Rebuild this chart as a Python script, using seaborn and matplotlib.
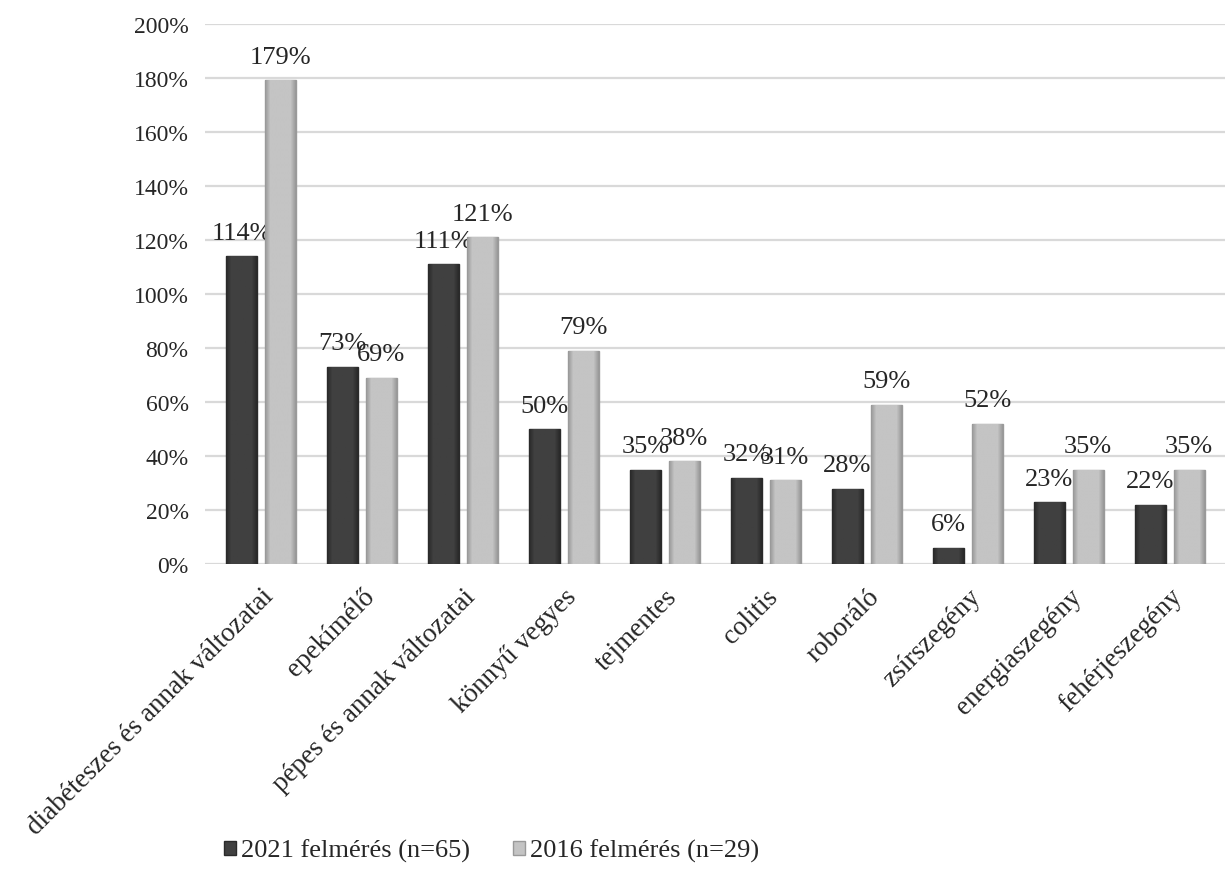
import numpy as np
import pandas as pd
import matplotlib
matplotlib.use("Agg")
import matplotlib.pyplot as plt
import seaborn as sns
from matplotlib.ticker import FuncFormatter
from matplotlib.patches import Patch

categories = ["diabéteszes és annak változatai", "epekímélő", "pépes és annak változatai",
              "könnyű vegyes", "tejmentes", "colitis", "roboráló", "zsírszegény",
              "energiaszegény", "fehérjeszegény"]
vals_2021 = [114, 73, 111, 50, 35, 32, 28, 6, 23, 22]
vals_2016 = [179, 69, 121, 79, 38, 31, 59, 52, 35, 35]
series = ["2021 felmérés (n=65)", "2016 felmérés (n=29)"]
colors = ["#404040", "#c4c4c4"]
edges = ["#2a2a2a", "#9a9a9a"]

df = pd.DataFrame({
    "kat": categories * 2,
    "ertek": vals_2021 + vals_2016,
    "sorozat": [series[0]] * len(categories) + [series[1]] * len(categories),
})

sns.set_style("white")
plt.rcParams["font.family"] = ["Liberation Serif", "DejaVu Serif"]

fig = plt.figure(figsize=(12.29, 8.79), dpi=100)
ax = fig.add_axes([0.167, 0.357, 0.83, 0.615])

sns.barplot(data=df, x="kat", y="ertek", hue="sorozat", palette=colors,
            width=0.765, gap=0.2, ax=ax, legend=False, zorder=3)

ax.set_ylim(0, 200)
ax.set_xlim(-0.55, len(categories) - 0.45)

# egyszeru "domboru" hatas: vizszintes szinatmenet az oszlopokon
prof = np.concatenate([np.linspace(0.0, 1.0, 6), np.ones(20), np.linspace(1.0, 0.0, 6)])
for cont, base, ec in zip(ax.containers, colors, edges):
    rgb_c = np.array(matplotlib.colors.to_rgb(base))
    rgb_e = np.array(matplotlib.colors.to_rgb(ec))
    grad = rgb_e[None, :] + (rgb_c - rgb_e)[None, :] * prof[:, None]
    img = grad[None, :, :]
    for p in cont:
        p.set_edgecolor(ec)
        p.set_linewidth(1.0)
        x0, y0 = p.get_x(), p.get_y()
        w, h = p.get_width(), p.get_height()
        im = ax.imshow(img, extent=(x0, x0 + w, y0, y0 + h), aspect="auto",
                       zorder=3.5, interpolation="bilinear")
        im.set_clip_path(p)
    ax.bar_label(cont, labels=[f"{v:.0f}%" for v in cont.datavalues],
                 padding=9, fontsize=19)

ax.set_ylim(0, 200)
ax.set_xlim(-0.55, len(categories) - 0.45)
ax.set_yticks(range(0, 201, 20))
ax.yaxis.set_major_formatter(FuncFormatter(lambda v, _: f"{v:.0f}%"))
ax.grid(axis="y", color="#d9d9d9", linewidth=1.6, zorder=0)
ax.set_axisbelow(True)
for s in ax.spines.values():
    s.set_visible(False)
ax.tick_params(axis="y", length=0, labelsize=17, pad=12)
ax.tick_params(axis="x", length=0, labelsize=19.5, pad=14)
ax.set_xlabel("")
ax.set_ylabel("")
plt.setp(ax.get_xticklabels(), rotation=45, ha="right", va="top", rotation_mode="anchor")

handles = [Patch(facecolor=c, edgecolor=e) for c, e in zip(colors, edges)]
fig.legend(handles, series, loc="center", bbox_to_anchor=(0.4, 0.031), ncol=2,
           frameon=False, fontsize=19, handlelength=0.45, handleheight=0.45,
           handletextpad=0.2, columnspacing=1.6)

fig.savefig("out.png", dpi=100)
